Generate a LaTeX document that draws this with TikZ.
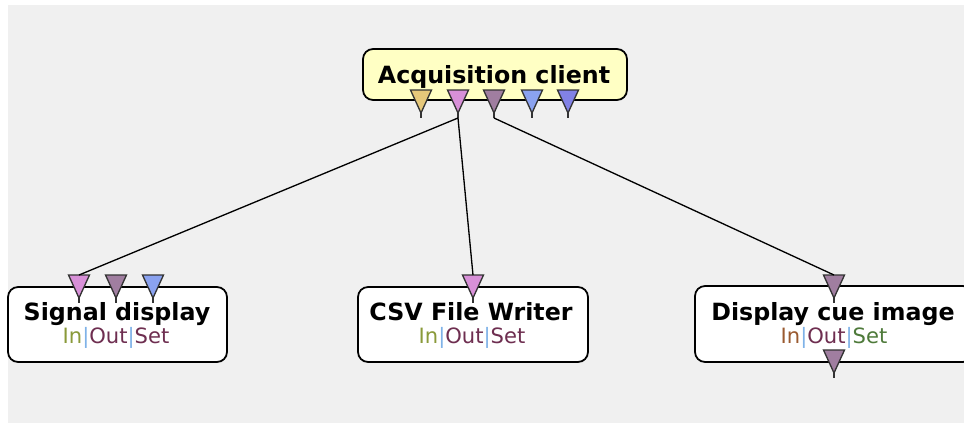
\documentclass[tikz,border=0pt]{standalone}
\usepackage{fontspec}
\setmainfont{DejaVu Sans}
\usepackage{tikz}

\definecolor{panelgrey}{HTML}{F0F0F0}
\definecolor{boxyellow}{HTML}{FFFFC4}
\definecolor{porttan}{HTML}{E6C87A}
\definecolor{portpink}{HTML}{D890D8}
\definecolor{portmauve}{HTML}{A07EA0}
\definecolor{portblue}{HTML}{8AA2F0}
\definecolor{portviolet}{HTML}{8282E6}
\definecolor{inolive}{HTML}{8A9A3A}
\definecolor{inbrown}{HTML}{9A5A30}
\definecolor{outmaroon}{HTML}{6E2E50}
\definecolor{setgreen}{HTML}{4E7A3A}
\definecolor{barblue}{HTML}{7FB2E8}

% down-pointing port: name, x, y of top edge, fill colour
\newcommand{\portdown}[4]{%
    \coordinate (#1-top) at (#2,#3);
    \coordinate (#1) at (#2,#3+28);
    \draw[port, fill=#4] (#2-10.5,#3) -- (#2+10.5,#3) -- (#2,#3+23) -- cycle;
    \draw[port] (#2,#3+23) -- (#1);
}
\newcommand{\iostext}[3]{{\color{#1}In}{\color{barblue}|}{\color{#2}Out}{\color{barblue}|}{\color{#3}Set}}

\begin{document}
\begin{tikzpicture}[x=0.02cm, y=-0.02cm,
                    box/.style = {draw=black, line width=1pt, rounded corners=0.2cm, inner sep=0pt},
                    title/.style = {anchor=base, inner sep=0pt, font=\fontsize{13.5}{16}\selectfont\bfseries},
                    io/.style = {anchor=base, inner sep=0pt, font=\fontsize{12}{14}\selectfont},
                    port/.style = {draw=black!80, line width=0.75pt, line join=miter},
                    wire/.style = {draw=black, line width=0.75pt}
                ]
                    \useasboundingbox (0,0) rectangle (964,423);
                    \fill[panelgrey] (8,5) rectangle (964,423);

                    % boxes
                    \node[box, fill=boxyellow, minimum width=5.28cm, minimum height=1.02cm] (acq) at (495,74.5) {};
                    \node[box, fill=white, minimum width=4.38cm, minimum height=1.5cm] (sig) at (117.5,324.5) {};
                    \node[box, fill=white, minimum width=4.6cm, minimum height=1.5cm] (csv) at (473,324.5) {};
                    \node[box, fill=white, minimum width=5.56cm, minimum height=1.52cm] (cue) at (834,324) {};

                    \node[title] (acq-title) at (494,83) {Acquisition client};
                    \node[title] (sig-title) at (117,320) {Signal display};
                    \node[io] (sig-io) at (116,343) {\iostext{inolive}{outmaroon}{outmaroon}};
                    \node[title] (csv-title) at (471,320) {CSV File Writer};
                    \node[io] (csv-io) at (472,343) {\iostext{inolive}{outmaroon}{outmaroon}};
                    \node[title] (cue-title) at (833,320) {Display cue image};
                    \node[io] (cue-io) at (834,343) {\iostext{inbrown}{outmaroon}{setgreen}};

                    % ports
                    \portdown{acq-p1}{421}{90}{porttan}
                    \portdown{acq-p2}{458}{90}{portpink}
                    \portdown{acq-p3}{494}{90}{portmauve}
                    \portdown{acq-p4}{532}{90}{portblue}
                    \portdown{acq-p5}{568}{90}{portviolet}

                    \portdown{sig-in}{79}{275}{portpink}
                    \portdown{sig-out}{116}{275}{portmauve}
                    \portdown{sig-set}{153}{275}{portblue}
                    \portdown{csv-in}{473}{275}{portpink}
                    \portdown{cue-in}{834}{275}{portmauve}
                    \portdown{cue-out}{834}{350}{portmauve}

                    % links
                    \draw[wire] (acq-p2) -- (sig-in-top);
                    \draw[wire] (acq-p2) -- (csv-in-top);
                    \draw[wire] (acq-p3) -- (cue-in-top);
                \end{tikzpicture}
\end{document}
